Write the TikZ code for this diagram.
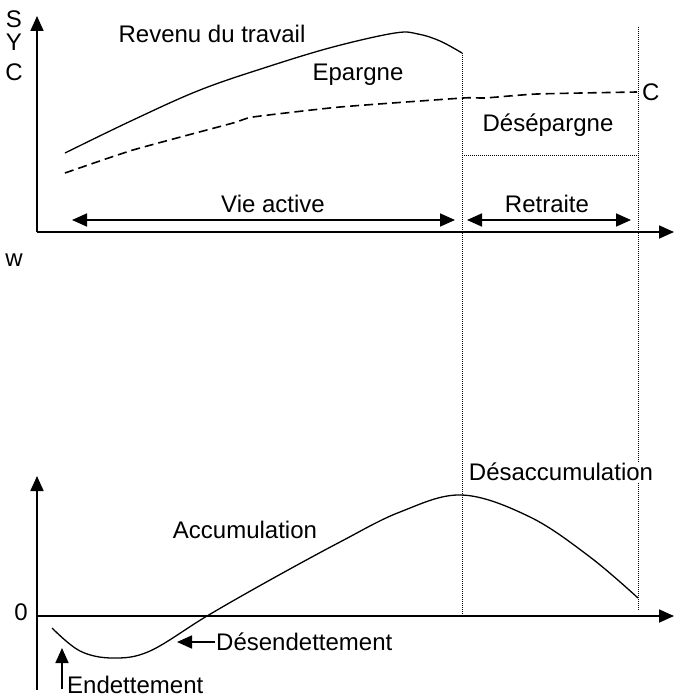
\documentclass[tikz,border=0pt]{standalone}
\usepackage{fontspec}
\setmainfont{Liberation Sans}
\usetikzlibrary{arrows.meta}
\begin{document}
\begin{tikzpicture}[x=1pt,y=-1pt,
  lbl/.style={inner sep=1pt,font=\fontsize{24}{28}\selectfont},
  axis/.style={line width=1.8pt,-{Triangle[length=15pt,width=13pt]}},
  span/.style={line width=1.7pt,{Triangle[length=15pt,width=13pt]}-{Triangle[length=15pt,width=13pt]}},
  ptr/.style={line width=1.7pt,-{Triangle[length=15pt,width=13pt]}},
  guide/.style={line width=1pt,densely dotted},
  curve/.style={line width=1.3pt}]
\useasboundingbox (0,0) rectangle (674,698);
% top graph coordinates
\coordinate (o1) at (37,232);
\coordinate (ytop1) at (37,16);
\coordinate (xend1) at (674,232);
\draw[axis] (o1) -- (ytop1);
\draw[axis] (o1) -- (xend1);
\node[lbl,inner sep=0pt] (S) at (14,19) {S};
\node[lbl,inner sep=0pt] (Y) at (14,42) {Y};
\node[lbl,inner sep=0pt] (C) at (14,72) {C};
\node[lbl] (w) at (14,260) {w};
% revenue curve
\draw[curve] plot[smooth,tension=0.6] coordinates {(65,153) (133,120) (200,90) (267,67) (333,47) (395,33) (418,34) (440,41) (462,53)};
% consumption curve
\draw[curve,line width=1.6pt,dash pattern=on 9pt off 5pt] plot[smooth,tension=0.3] coordinates {(65,173) (133,150) (233,123) (253,117) (340,107) (463,98) (485,98) (537,94) (637,92)};
\node[lbl,anchor=west] (Cr) at (641,92) {C};
\node[lbl] (rev) at (212,34) {Revenu du travail};
\node[lbl] (ep) at (358,75) {Epargne};
\node[lbl] (desep) at (548,125) {Désépargne};
% guides
\coordinate (g1t) at (462,53);
\coordinate (g1b) at (462,616);
\coordinate (g2t) at (638,27);
\coordinate (g2b) at (638,610);
\coordinate (h1) at (462,155);
\coordinate (h2) at (638,155);
\draw[guide] (g1t) -- (g1b);
\draw[guide] (g2t) -- (g2b);
\draw[guide] (h1) -- (h2);
% spans
\coordinate (va1) at (72,220);
\coordinate (va2) at (455,220);
\coordinate (re1) at (467,220);
\coordinate (re2) at (631,220);
\draw[span] (va1) -- (va2);
\draw[span] (re1) -- (re2);
\node[lbl] (vie) at (273,204) {Vie active};
\node[lbl] (ret) at (547,204) {Retraite};
% bottom graph
\coordinate (o2b) at (37,690);
\coordinate (ytop2) at (37,476);
\coordinate (o2) at (37,616);
\coordinate (xend2) at (674,616);
\draw[axis] (o2b) -- (ytop2);
\draw[axis] (o2) -- (xend2);
\node[lbl] (zero) at (21,612) {0};
\draw[curve] plot[smooth,tension=0.6] coordinates {(52,628) (80,651) (113,658) (150,651) (207,616) (270,580) (340,542) (400,512) (462,495) (530,517) (590,557) (638,598)};
\node[lbl,fill=white,inner sep=1pt] (desacc) at (561,472) {Désaccumulation};
\node[lbl] (acc) at (245,530) {Accumulation};
\node[lbl,anchor=west] (desend) at (215,642) {Désendettement};
\coordinate (desendtip) at (177,642);
\draw[ptr] (desend.west) -- (desendtip);
\node[lbl,anchor=west] (endet) at (66,685) {Endettement};
\coordinate (endtip) at (62,648);
\coordinate (endbase) at (62,689);
\draw[ptr] (endbase) -- (endtip);
\end{tikzpicture}
\end{document}
